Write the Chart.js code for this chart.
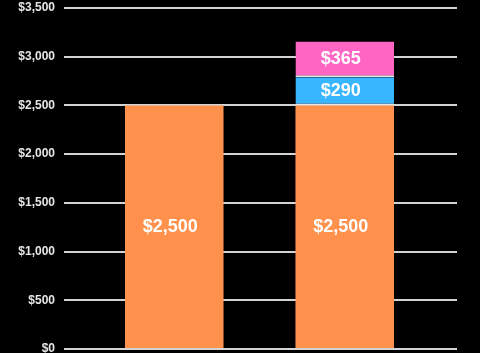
<!DOCTYPE html>
<html>
<head>
<meta charset="utf-8">
<script src="https://cdn.jsdelivr.net/npm/chart.js@4"></script>
<style>
  html, body { margin: 0; padding: 0; background: #000; }
  canvas { display: block; }
</style>
</head>
<body>
<canvas id="chart" width="480" height="353"></canvas>
<script>
// --- Data ---
const categories = ['Bar 1', 'Bar 2'];
const baseValues = [2500, 2500];
const blueValues = [null, 290];
const pinkValues = [null, 365];
const yTicks = [0, 500, 1000, 1500, 2000, 2500, 3000, 3500];

const fmtUsd = (n) => '$' + Number(n).toLocaleString('en-US');

// --- Value labels inside bars ---
const barLabels = {
  id: 'barLabels',
  afterDatasetsDraw(chart) {
    const ctx = chart.ctx;
    ctx.save();
    ctx.fillStyle = '#ffffff';
    ctx.font = 'bold 18px "Liberation Sans", Arial, sans-serif';
    ctx.textAlign = 'center';
    ctx.textBaseline = 'middle';
    chart.data.datasets.forEach((ds, i) => {
      const meta = chart.getDatasetMeta(i);
      meta.data.forEach((bar, j) => {
        const v = ds.data[j];
        if (v == null) return;
        const mid = (bar.y + bar.base) / 2;
        ctx.fillText(fmtUsd(v), bar.x - 4, mid);
      });
    });
    ctx.restore();
  }
};

const gridColor = '#d4d4d4';

// keep the plot area fixed; labels may overhang it
function fixPad(s, w) {
  s.width = w;
  s.paddingTop = 0;
  s.paddingBottom = 0;
}

new Chart(document.getElementById('chart'), {
  type: 'bar',
  data: {
    labels: categories,
    datasets: [
      { data: baseValues, backgroundColor: '#ff914d', borderWidth: 0 },
      { data: blueValues, backgroundColor: '#38b6ff', borderColor: '#e8e8e8',
        borderWidth: { top: 0, left: 0, right: 0, bottom: 2 }, borderSkipped: false },
      { data: pinkValues, backgroundColor: '#ff66c4', borderColor: '#e8e8e8',
        borderWidth: { top: 0, left: 0, right: 0, bottom: 2 }, borderSkipped: false }
    ]
  },
  options: {
    responsive: false,
    animation: false,
    devicePixelRatio: 1,
    categoryPercentage: 0.578,
    barPercentage: 1,
    layout: { padding: { top: 8, right: 23, bottom: 4, left: 0 } },
    plugins: { legend: { display: false }, tooltip: { enabled: false } },
    scales: {
      x: { stacked: true, display: false },
      y: {
        stacked: true,
        min: 0,
        max: 3500,
        afterFit: (s) => fixPad(s, 89),
        afterBuildTicks: (s) => { s.ticks = yTicks.map(v => ({ value: v })); },
        border: { display: false },
        grid: { color: gridColor, lineWidth: 2, drawTicks: true, tickLength: 25, tickColor: gridColor },
        ticks: {
          padding: 9,
          color: '#e6e6e6',
          font: { family: '"Liberation Sans", Arial, sans-serif', size: 12, weight: 'bold' },
          callback: (v) => fmtUsd(v)
        }
      },
      y2: {
        position: 'right',
        min: 0,
        max: 3500,
        afterFit: (s) => fixPad(s, 27),
        afterBuildTicks: (s) => { s.ticks = yTicks.map(v => ({ value: v })); },
        border: { display: false },
        grid: { color: gridColor, lineWidth: 2, drawOnChartArea: false, drawTicks: true, tickLength: 27, tickColor: gridColor },
        ticks: { display: false }
      }
    }
  },
  plugins: [barLabels]
});
</script>
</body>
</html>
